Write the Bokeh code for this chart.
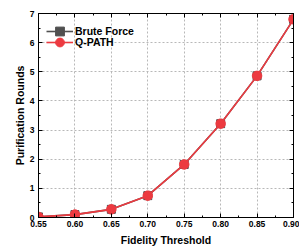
from bokeh.plotting import figure
from bokeh.models import (LinearAxis, FixedTicker, Range1d, Legend, LegendItem,
                          CustomJSTickFormatter)
from bokeh.embed import file_html
from bokeh.resources import INLINE

fidelity = [0.55, 0.60, 0.65, 0.70, 0.75, 0.80, 0.85, 0.90]
brute_force = [0.02, 0.10, 0.28, 0.75, 1.82, 3.22, 4.86, 6.80]
q_path = [0.02, 0.10, 0.28, 0.75, 1.82, 3.22, 4.86, 6.80]
x_ticks = [0.55, 0.60, 0.65, 0.70, 0.75, 0.80, 0.85, 0.90]
y_ticks = [0, 1, 2, 3, 4, 5, 6, 7]
x_minor = [0.575, 0.625, 0.675, 0.725, 0.775, 0.825, 0.875]
y_minor = [0.5, 1.5, 2.5, 3.5, 4.5, 5.5, 6.5]

FONT = "Liberation Sans"
GREY = "#505050"
RED = "#ec3a40"

p = figure(width=299, height=248, output_backend="svg", toolbar_location=None,
           x_range=Range1d(0.55, 0.90), y_range=Range1d(0, 7),
           min_border_left=38, min_border_top=13, min_border_right=6, min_border_bottom=30)
p.outline_line_color = "black"
p.outline_line_width = 1
p.background_fill_color = "white"
p.border_fill_color = "white"

for ax, ticks, minor in ((p.xaxis[0], x_ticks, x_minor), (p.yaxis[0], y_ticks, y_minor)):
    ax.ticker = FixedTicker(ticks=ticks, minor_ticks=minor)
    ax.major_tick_in = 4
    ax.major_tick_out = 0
    ax.minor_tick_in = 2
    ax.minor_tick_out = 0
    ax.axis_line_color = "black"
    ax.major_label_text_font = FONT
    ax.major_label_text_font_style = "bold"
    ax.major_label_text_font_size = "8.5px"
    ax.major_label_text_color = "black"
    ax.axis_label_text_font = FONT
    ax.axis_label_text_font_style = "bold"
    ax.axis_label_text_font_size = "10.5px"
    ax.axis_label_text_color = "black"

p.xaxis[0].major_label_standoff = 3
p.xaxis[0].axis_label_standoff = 4
p.yaxis[0].major_label_standoff = 4
p.yaxis[0].axis_label_standoff = 1
p.xaxis[0].axis_label = "Fidelity Threshold"
p.yaxis[0].axis_label = "Purification Rounds"
p.xaxis[0].formatter = CustomJSTickFormatter(code="return tick.toFixed(2);")

for loc, ticks, minor in (("above", x_ticks, x_minor), ("right", y_ticks, y_minor)):
    ax = LinearAxis(ticker=FixedTicker(ticks=ticks, minor_ticks=minor),
                    formatter=CustomJSTickFormatter(code="return '';"),
                    major_tick_in=4, major_tick_out=0, minor_tick_in=2, minor_tick_out=0,
                    major_label_standoff=0, axis_line_color="black")
    p.add_layout(ax, loc)

for g, ticks in ((p.xgrid[0], x_ticks), (p.ygrid[0], y_ticks)):
    g.ticker = FixedTicker(ticks=ticks)
    g.grid_line_color = "#b8b8b8"
    g.grid_line_dash = "2 2"
    g.grid_line_width = 1

l1 = p.line(fidelity, brute_force, line_color=GREY, line_width=1.6)
s1 = p.scatter(fidelity, brute_force, marker="square", size=8, fill_color=GREY, line_color=GREY)
l2 = p.line(fidelity, q_path, line_color=RED, line_width=1.6)
s2 = p.scatter(fidelity, q_path, marker="circle", size=9.5, fill_color=RED, line_color=RED)

legend_style = dict(margin=0, padding=0, spacing=0,
                    label_height=11, glyph_height=22, glyph_width=27, label_standoff=2,
                    label_text_font=FONT, label_text_font_style="bold",
                    label_text_font_size="10.5px", label_text_color="black",
                    border_line_color=None, background_fill_alpha=0)
legend1 = Legend(items=[LegendItem(label="Brute Force", renderers=[l1, s1])],
                 location=(8, 175), **legend_style)
legend2 = Legend(items=[LegendItem(label="Q-PATH", renderers=[l2, s2])],
                 location=(8, 164), **legend_style)
p.add_layout(legend1, "center")
p.add_layout(legend2, "center")

open("out.html", "w").write(file_html(p, INLINE))
